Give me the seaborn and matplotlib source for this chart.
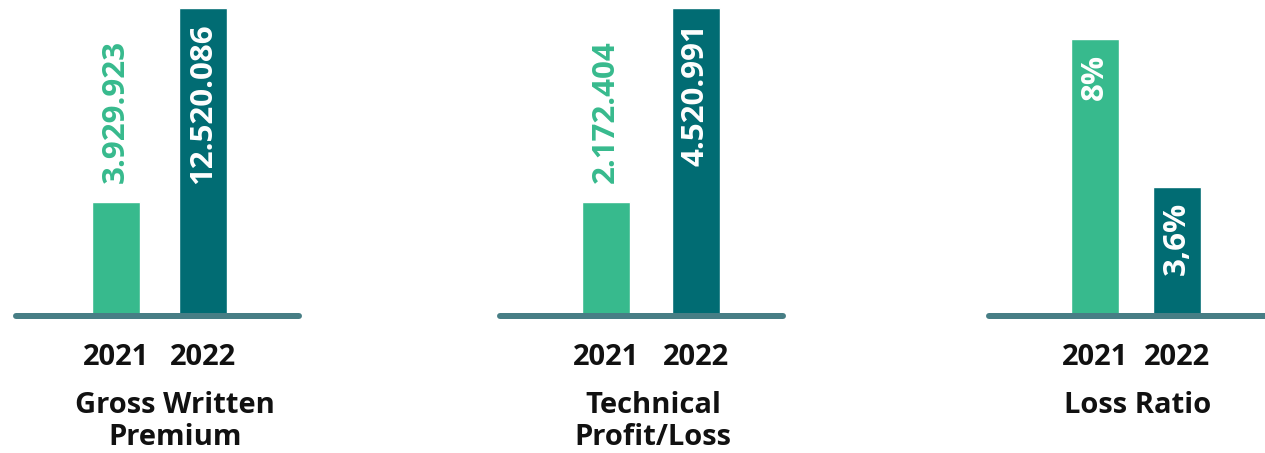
import matplotlib
matplotlib.use("Agg")
import matplotlib.pyplot as plt
import seaborn as sns

# ---------------- data ----------------
years = ["2021", "2022"]
panel_titles = [["Gross Written", "Premium"], ["Technical", "Profit/Loss"], ["Loss Ratio"]]
gwp_labels = ["3.929.923", "12.520.086"]
tpl_labels = ["2.172.404", "4.520.991"]
lr_labels = ["8%", "3,6%"]
# bar lengths as drawn in the picture (relative units, tallest = 100)
gwp_heights = [37, 100]
tpl_heights = [37, 100]
lr_heights = [90, 42]

# ---------------- style ----------------
GREEN = "#37BA8D"
TEAL = "#016C73"
BASE = "#477E85"
INK = "#111111"

sns.set_theme(style="white")
plt.rcParams["font.family"] = ["Open Sans", "DejaVu Sans"]

W, H = 1265, 453
fig = plt.figure(figsize=(W / 100, H / 100), dpi=100)

BASE_Y = 316          # baseline pixel row (from top)
BAR_W = 48            # bar width in px
LW_PX = 6             # baseline thickness
YMAX = 100 * BASE_Y / 308.0

layouts = [
    dict(left=13, right=302, c0=116, c1=203, tx=175),
    dict(left=497, right=786, c0=606, c1=695.5, tx=653),
    dict(left=986, right=1280, c0=1095, c1=1177, tx=1138),
]
panels = [(gwp_heights, gwp_labels), (tpl_heights, tpl_labels), (lr_heights, lr_labels)]
title_baselines = [413, 445]
year_baseline = 365

for lay, (heights, labels), title in zip(layouts, panels, panel_titles):
    left, right = lay["left"], lay["right"]
    unit = lay["c1"] - lay["c0"]
    ax = fig.add_axes([left / W, 1 - BASE_Y / H, (right - left) / W, BASE_Y / H])
    sns.barplot(x=years, y=heights, hue=years, palette=[GREEN, TEAL],
                width=BAR_W / unit, saturation=1, legend=False, ax=ax, zorder=2)
    ax.set_xlim(-(lay["c0"] - left) / unit, 1 + (right - lay["c1"]) / unit)
    ax.set_ylim(0, YMAX)
    ax.axis("off")
    wpx = right - left
    ax.axhline(0, xmin=(LW_PX / 2) / wpx, xmax=1 - (LW_PX / 2) / wpx, color=BASE,
               lw=LW_PX * 0.72, solid_capstyle="round", clip_on=False, zorder=3)

    px_per_unit = BASE_Y / YMAX
    for i, (h, lab) in enumerate(zip(heights, labels)):
        bar_px = h * px_per_unit
        inside = len(lab) * 16 + 30 < bar_px
        if inside:
            ax.annotate(lab, (i, h), xytext=(0, -11), textcoords="offset points",
                        rotation=90, ha="center", va="top", color="white",
                        fontsize=22.5, fontweight="bold", zorder=4)
        else:
            ax.annotate(lab, (i, h), xytext=(0, 13.5), textcoords="offset points",
                        rotation=90, ha="center", va="bottom",
                        color=[GREEN, TEAL][i], fontsize=22.5, fontweight="bold", zorder=4)
        ax.text(i, -(year_baseline - BASE_Y) / BASE_Y, years[i],
                transform=ax.get_xaxis_transform(), ha="center", va="baseline",
                fontsize=21, fontweight="bold", color=INK)

    for line, yb in zip(title, title_baselines):
        fig.text(lay["tx"] / W, 1 - yb / H, line, ha="center", va="baseline",
                 fontsize=21, fontweight="bold", color=INK)

fig.savefig("out.png", dpi=100, facecolor="white")
